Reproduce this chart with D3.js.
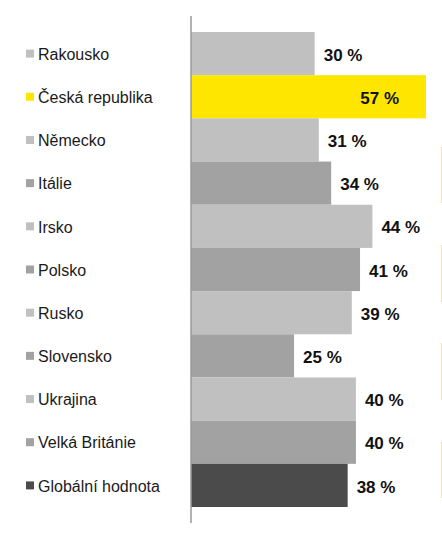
<!DOCTYPE html>
<html>
<head>
<meta charset="utf-8">
<script src="https://cdn.jsdelivr.net/npm/d3@7"></script>
<style>
  body { margin: 0; background: #fff; }
</style>
</head>
<body>
<script>
'use strict';
// country labels, values (%) and the colour group of each bar
const countries = ["Rakousko", "Česká republika", "Německo", "Itálie", "Irsko", "Polsko",
                   "Rusko", "Slovensko", "Ukrajina", "Velká Británie", "Globální hodnota"];
const values = [30, 57, 31, 34, 44, 41, 39, 25, 40, 40, 38];
const groups = ["light", "cz", "light", "mid", "light", "mid", "light", "mid", "light", "mid", "global"];

(function() {
    const colors = { light: "#c0c0c0", mid: "#a2a2a2", cz: "#ffe600", global: "#4b4b4b" };

    const svg = d3.select("body").append("svg")
        .attr("width", 442)
        .attr("height", 538);

    // band for each row, bars fill the whole band
    const y = d3.scaleBand()
        .domain(countries)
        .range([32, 507])
        .padding(0);

    const x = d3.scaleLinear()
        .domain([0, 57])
        .range([191, 426]);

    // bars
    svg.selectAll(".bar")
        .data(countries)
        .enter()
        .append("rect")
        .attr("x", x(0))
        .attr("y", d => y(d))
        .attr("width", (d, i) => x(values[i]) - x(0))
        .attr("height", y.bandwidth())
        .attr("fill", (d, i) => colors[groups[i]]);

    // vertical axis line
    svg.append("line")
        .attr("x1", x(0)).attr("x2", x(0))
        .attr("y1", 16).attr("y2", 523)
        .attr("stroke", "#9a9a9a")
        .attr("stroke-width", 1.5);

    // value labels, Czech one sits inside its bar
    svg.selectAll(".val")
        .data(countries)
        .enter()
        .append("text")
        .attr("x", (d, i) => groups[i] === "cz" ? x(values[i]) - 27 : x(values[i]) + 9)
        .attr("y", d => y(d) + y.bandwidth() / 2 + 1)
        .attr("dy", "0.36em")
        .attr("text-anchor", (d, i) => groups[i] === "cz" ? "end" : "start")
        .style("font-family", "Liberation Sans, Arial, sans-serif")
        .style("font-size", "17px")
        .style("font-weight", "bold")
        .style("fill", "#111")
        .text((d, i) => values[i] + " %");

    // category labels with small colour squares
    svg.selectAll(".sq")
        .data(countries)
        .enter()
        .append("rect")
        .attr("x", 26)
        .attr("y", d => y(d) + y.bandwidth() / 2 - 4)
        .attr("width", 8)
        .attr("height", 8)
        .attr("fill", (d, i) => colors[groups[i]]);

    svg.selectAll(".cat")
        .data(countries)
        .enter()
        .append("text")
        .attr("x", 38)
        .attr("y", d => y(d) + y.bandwidth() / 2 + 0.5)
        .attr("dy", "0.36em")
        .style("font-family", "Liberation Sans, Arial, sans-serif")
        .style("font-size", "16px")
        .style("fill", "#1a1a1a")
        .text(d => d);

    // faint yellow slivers at the right edge (cropped from the neighbouring slide)
    const slivers = [[147, 203], [245, 302], [343, 400], [442, 498]];
    svg.selectAll(".sliver")
        .data(slivers)
        .enter()
        .append("line")
        .attr("x1", 441.5).attr("x2", 441.5)
        .attr("y1", d => d[0]).attr("y2", d => d[1])
        .attr("stroke", "#fbe97a")
        .attr("stroke-width", 1);
})();
</script>
</body>
</html>
